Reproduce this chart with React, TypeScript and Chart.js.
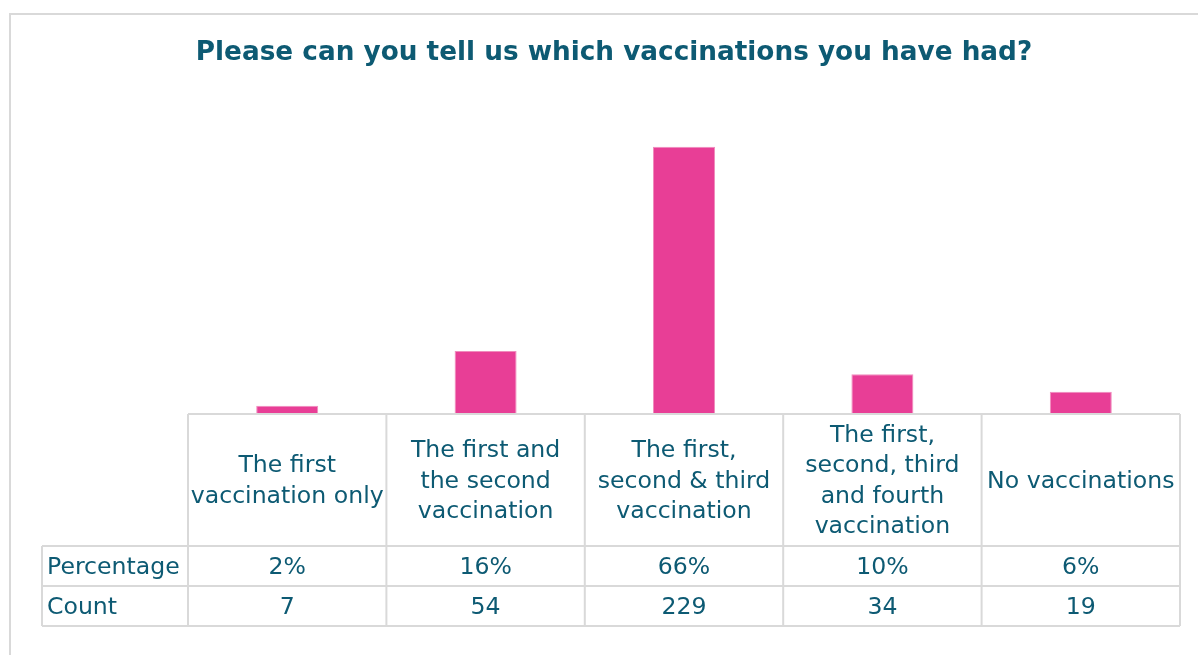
import React, { useEffect, useRef } from 'react';
import { Chart, registerables } from 'chart.js';
Chart.register(...registerables);

const categories: string[][] = [
  ['The first', 'vaccination only'],
  ['The first and', 'the second', 'vaccination'],
  ['The first,', 'second & third', 'vaccination'],
  ['The first,', 'second, third', 'and fourth', 'vaccination'],
  ['No vaccinations'],
];
const counts: number[] = [7, 54, 229, 34, 19];
const percentages: string[] = ['2%', '16%', '66%', '10%', '6%'];
const rowLabels: string[] = ['Percentage', 'Count'];
const titleText = 'Please can you tell us which vaccinations you have had?';

const TEXT = '#0d5a73';
const GRID = '#d9d9d9';
const BAR = '#e83e96';
const FONT = '"DejaVu Sans", sans-serif';

const tablePlugin = {
  id: 'dataTable',
  beforeDraw(chart: any) {
    const ctx = chart.ctx;
    ctx.save();
    ctx.strokeStyle = GRID;
    ctx.lineWidth = 2;
    ctx.strokeRect(10, 14, chart.width + 40, chart.height + 40);
    ctx.fillStyle = TEXT;
    ctx.font = 'bold 26.3px ' + FONT;
    ctx.textAlign = 'center';
    ctx.textBaseline = 'middle';
    ctx.fillText(titleText, 614, 53);
    ctx.restore();
  },
  afterDraw(chart: any) {
    const { ctx, chartArea } = chart;
    const xs = chart.scales.x;
    const n = categories.length;
    const left = chartArea.left;
    const right = chartArea.right;
    const top = chartArea.bottom;
    const colW = (right - left) / n;
    const headerH = 132;
    const rowH = 40;
    const labelLeft = 42;
    const bottom = top + headerH + rowH * rowLabels.length;
    const dy = 1.5;

    ctx.save();
    ctx.strokeStyle = GRID;
    ctx.lineWidth = 2;
    ctx.beginPath();
    ctx.moveTo(left, top); ctx.lineTo(right, top);
    for (let r = 0; r <= rowLabels.length; r++) {
      const y = top + headerH + r * rowH;
      ctx.moveTo(labelLeft, y); ctx.lineTo(right, y);
    }
    ctx.moveTo(labelLeft, top + headerH); ctx.lineTo(labelLeft, bottom);
    for (let i = 0; i <= n; i++) {
      const x = left + i * colW;
      ctx.moveTo(x, top); ctx.lineTo(x, bottom);
    }
    ctx.stroke();

    ctx.fillStyle = TEXT;
    ctx.font = '23.6px ' + FONT;
    ctx.textBaseline = 'middle';
    ctx.textAlign = 'center';
    const lh = 30.3;
    categories.forEach((lines, i) => {
      const cx = xs.getPixelForValue(i);
      const cy = top + headerH / 2 + dy;
      const startY = cy - ((lines.length - 1) * lh) / 2;
      lines.forEach((ln, j) => ctx.fillText(ln, cx, startY + j * lh));
    });
    const rows = [percentages, counts.map(String)];
    rows.forEach((vals, r) => {
      const cy = top + headerH + r * rowH + rowH / 2 + dy;
      vals.forEach((v, i) => ctx.fillText(v, xs.getPixelForValue(i), cy));
    });
    ctx.textAlign = 'left';
    rowLabels.forEach((lbl, r) => {
      const cy = top + headerH + r * rowH + rowH / 2 + dy;
      ctx.fillText(lbl, labelLeft + 5, cy);
    });
    ctx.restore();
  },
};

export default function App() {
  const ref = useRef<HTMLCanvasElement | null>(null);
  useEffect(() => {
    if (!ref.current) return;
    const chart = new Chart(ref.current, {
      type: 'bar',
      data: {
        labels: categories.map((c) => c.join(' ')),
        datasets: [
          {
            data: counts,
            backgroundColor: BAR,
            borderColor: '#f08cbd',
            borderWidth: 1,
            barPercentage: 0.3125,
            categoryPercentage: 1,
          },
        ],
      },
      options: {
        responsive: false,
        animation: false,
        layout: { padding: { left: 188, right: 18, top: 122.2, bottom: 241 } },
        scales: {
          x: { display: false },
          y: { display: false, min: 0, max: 250 },
        },
        plugins: {
          legend: { display: false },
          tooltip: { enabled: false },
          title: { display: false },
        },
      },
      plugins: [tablePlugin],
    });
    return () => chart.destroy();
  }, []);
  return (
    <div style={{ position: 'fixed', left: 0, top: 0, width: 1198, height: 655, background: '#fff' }}>
      <canvas ref={ref} width={1198} height={655} style={{ width: 1198, height: 655 }} />
    </div>
  );
}
